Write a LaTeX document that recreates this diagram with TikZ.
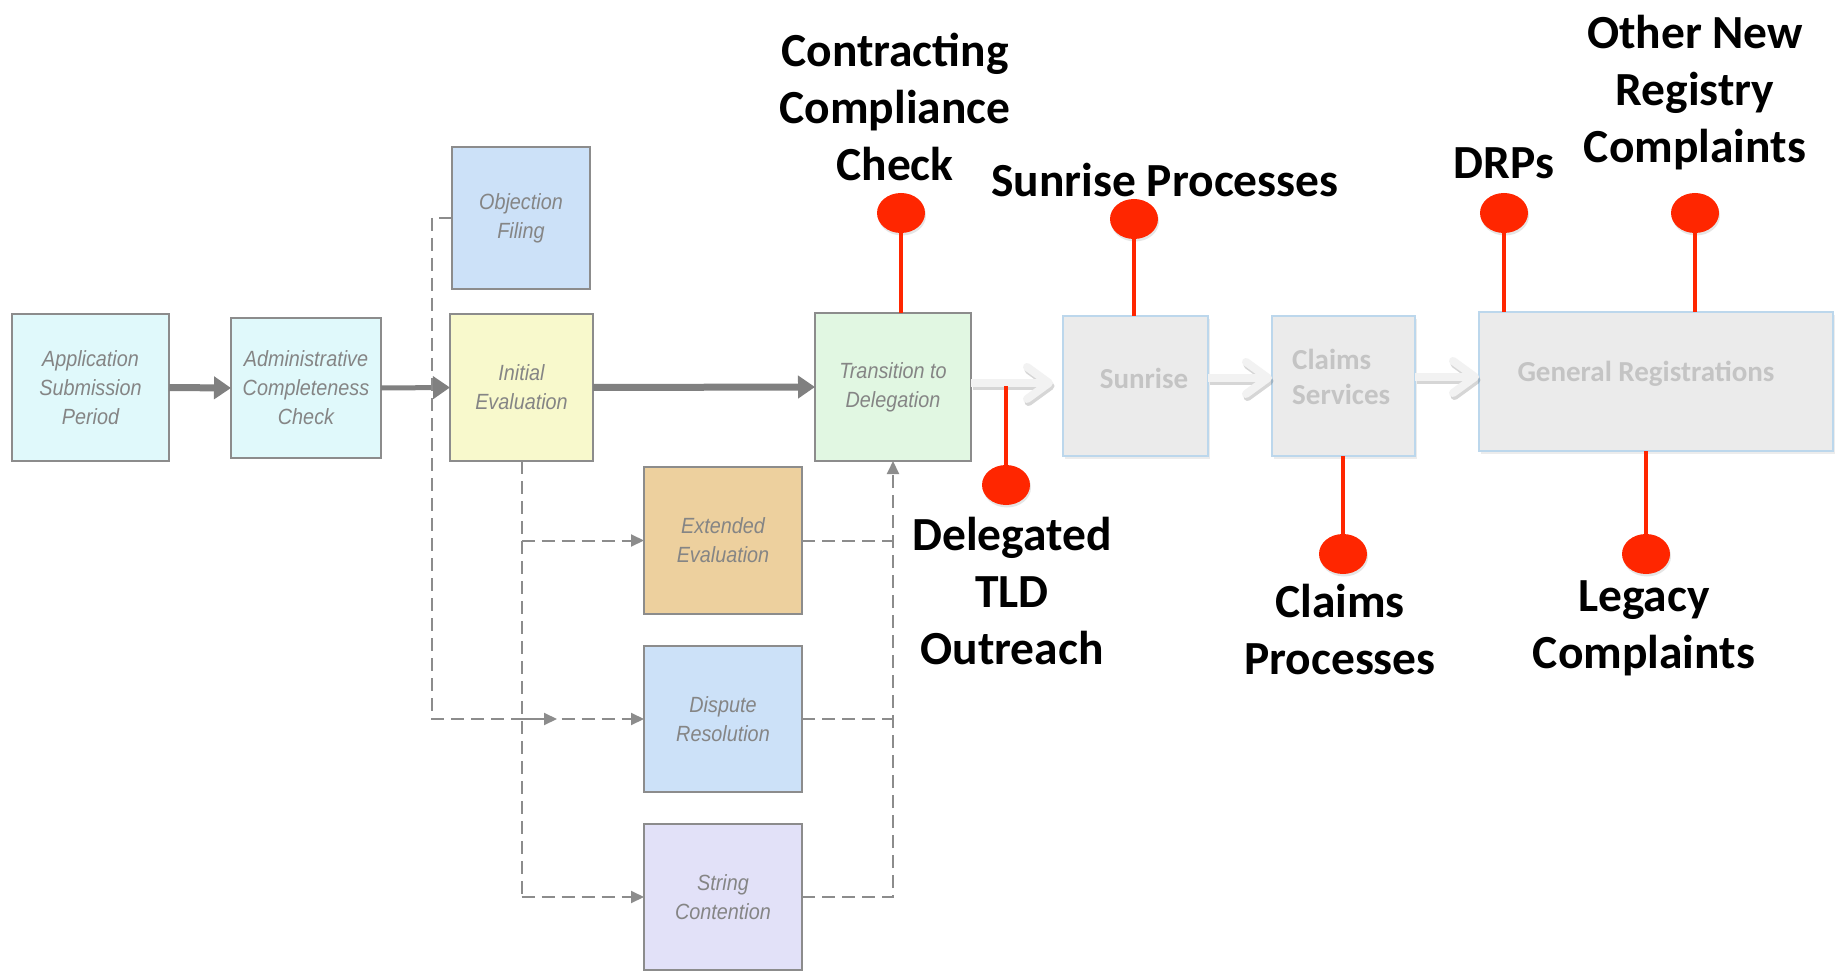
\documentclass[tikz,border=0pt]{standalone}
\usepackage{fontspec}
\setmainfont{Carlito}
\newfontfamily\boxfont[FakeStretch=0.9]{Liberation Sans}
\usetikzlibrary{arrows.meta,shapes.geometric,shadows}
\definecolor{boxline}{HTML}{8C8C8C}
\definecolor{boxtext}{HTML}{858585}
\definecolor{cyanfill}{HTML}{E0F9FB}
\definecolor{bluefill}{HTML}{CCE1F8}
\definecolor{yellowfill}{HTML}{F8F9CC}
\definecolor{greenfill}{HTML}{E1F7E2}
\definecolor{tanfill}{HTML}{EDD09E}
\definecolor{lavfill}{HTML}{E2E1F8}
\definecolor{grayfill}{HTML}{EBEBEB}
\definecolor{paleblue}{HTML}{BCD7EC}
\definecolor{graytext}{HTML}{C4C4C4}
\definecolor{pinred}{HTML}{FF2600}
\definecolor{arrowgray}{HTML}{808080}
\definecolor{arrowwhite}{HTML}{F2F2F2}
\begin{document}
\begin{tikzpicture}[x=1pt,y=-1pt,
  proc/.style={draw=boxline, line width=1.8pt, inner sep=0pt, outer sep=0pt, align=center,
    text=boxtext, font=\boxfont\itshape\fontsize{22}{29}\selectfont},
  graybox/.style={draw=paleblue, fill=grayfill, line width=1.5pt, inner sep=0pt, outer sep=0pt,
    drop shadow={shadow xshift=1.5pt, shadow yshift=-3pt, opacity=0.15}},
  graytxt/.style={text=graytext, font=\bfseries\fontsize{29}{35}\selectfont, inner sep=0pt},
  bigtext/.style={font=\bfseries\fontsize{47.5}{57}\selectfont, align=center, text=black, inner sep=0pt},
  redpin/.style={ellipse, fill=pinred, minimum width=48pt, minimum height=40pt, inner sep=0pt,
    drop shadow={shadow xshift=1pt, shadow yshift=-2.5pt, opacity=0.2}},
  pinline/.style={draw=pinred, line width=4.5pt},
  thickarr/.style={draw=arrowgray, line width=7pt, -{Triangle[length=17pt,width=22pt]}},
  dasharr/.style={draw=boxline, line width=2pt, dash pattern=on 13pt off 7pt},
  smalltip/.style={-{Triangle[length=13pt,width=12pt]}},
  whitearr/.style={draw=arrowwhite, line width=8pt, -{Straight Barb[length=22pt,width=32pt,round]}},
  whiteshadow/.style={draw=black, opacity=0.16, line width=8pt, -{Straight Barb[length=22pt,width=32pt,round]},
    transform canvas={shift={(1.5pt,-3pt)}}}
]
\useasboundingbox (0,0) rectangle (1836,973);
\fill[white] (0,0) rectangle (1836,973);

% process boxes
\node[proc, fill=cyanfill, minimum width=157pt, minimum height=147pt] (app) at (90.5,387.5) {Application\\Submission\\Period};
\node[proc, fill=cyanfill, minimum width=150pt, minimum height=140pt] (admin) at (306,388) {Administrative\\Completeness\\Check};
\node[proc, fill=bluefill, minimum width=138pt, minimum height=142pt] (obj) at (521,218) {Objection\\Filing};
\node[proc, fill=yellowfill, minimum width=143pt, minimum height=147pt] (init) at (521.5,387.5) {Initial\\Evaluation};
\node[proc, fill=greenfill, minimum width=156pt, minimum height=148pt] (trans) at (893,387) {Transition to\\Delegation};
\node[proc, fill=tanfill, minimum width=158pt, minimum height=147pt] (ext) at (723,540.5) {Extended\\Evaluation};
\node[proc, fill=bluefill, minimum width=158pt, minimum height=146pt] (disp) at (723,719) {Dispute\\Resolution};
\node[proc, fill=lavfill, minimum width=158pt, minimum height=146pt] (str) at (723,897) {String\\Contention};

% later phases
\node[graybox, minimum width=145pt, minimum height=140pt] (sun) at (1135.5,386) {};
\node[graybox, minimum width=143pt, minimum height=140pt] (claims) at (1343.5,386) {};
\node[graybox, minimum width=354pt, minimum height=139pt] (gen) at (1656,381.5) {};
\node[graytxt] (suntxt) at (1144,378) {Sunrise};
\node[graytxt, align=left, anchor=west] (claimstxt) at (1292,377) {Claims\\Services};
\node[graytxt] (gentxt) at (1646,373.5) {General Registrations};

% solid arrows
\draw[thickarr] (app.east) -- (admin.west);
\draw[thickarr, line width=5pt] (admin.east) -- (init.west);
\draw[thickarr] (init.east) -- (trans.west);

% dashed connectors
\coordinate (objcorner) at (432,719);
\coordinate (midtip) at (557,719);
\draw[dasharr] (init.south) -- (init.south |- str.west);
\draw[dasharr, smalltip] (init.south |- str.west) -- (str.west);
\draw[dasharr, smalltip] (init.south |- ext.west) -- (ext.west);
\draw[dasharr, smalltip] (init.south |- disp.west) -- (disp.west);
\draw[dasharr, smalltip] (obj.west) -| (objcorner) -- (midtip);
\draw[dasharr] (ext.east) -- (ext.east -| trans.south);
\draw[dasharr] (disp.east) -- (disp.east -| trans.south);
\draw[dasharr, smalltip] (str.east) -| (trans.south);

% light arrows
\draw[whiteshadow, shorten >=10pt] ([yshift=4pt]trans.east) -- ([yshift=4pt]trans.east -| sun.west);
\draw[whitearr, shorten >=10pt] ([yshift=4pt]trans.east) -- ([yshift=4pt]trans.east -| sun.west);
\draw[whiteshadow] ([yshift=8pt]sun.east) -- ([yshift=8pt]sun.east -| claims.west);
\draw[whitearr] ([yshift=8pt]sun.east) -- ([yshift=8pt]sun.east -| claims.west);
\draw[whiteshadow] ([yshift=9pt]claims.east) -- ([yshift=9pt]claims.east -| gen.west);
\draw[whitearr] ([yshift=9pt]claims.east) -- ([yshift=9pt]claims.east -| gen.west);

% red pins
\node[redpin] (p1) at (901,213) {};
\node[redpin] (p2) at (1134,219) {};
\node[redpin] (p3) at (1504,213) {};
\node[redpin] (p4) at (1695,213) {};
\node[redpin] (p5) at (1006,485) {};
\node[redpin] (p6) at (1343,554) {};
\node[redpin] (p7) at (1646,554) {};
\coordinate (dtop) at (1006,386);
\draw[pinline] (p1.south) -- (p1.south |- trans.north);
\draw[pinline] (p2.south) -- (p2.south |- sun.north);
\draw[pinline] (p3.south) -- (p3.south |- gen.north);
\draw[pinline] (p4.south) -- (p4.south |- gen.north);
\draw[pinline] (dtop) -- (p5.north);
\draw[pinline] (claims.south -| p6.north) -- (p6.north);
\draw[pinline] (gen.south -| p7.north) -- (p7.north);

% labels
\node[bigtext] (l1) at (895,107) {Contracting\\Compliance\\Check};
\node[bigtext] (l2) at (1165,180) {Sunrise Processes};
\node[bigtext] (l3) at (1504,163) {DRPs};
\node[bigtext] (l4) at (1695,93) {Other New\\Registry\\Complaints};
\node[bigtext] (l5) at (1012,591.5) {Delegated\\TLD\\Outreach};
\node[bigtext] (l6) at (1340,630) {Claims\\Processes};
\node[bigtext] (l7) at (1644,628) {Legacy\\Complaints};
\end{tikzpicture}
\end{document}
